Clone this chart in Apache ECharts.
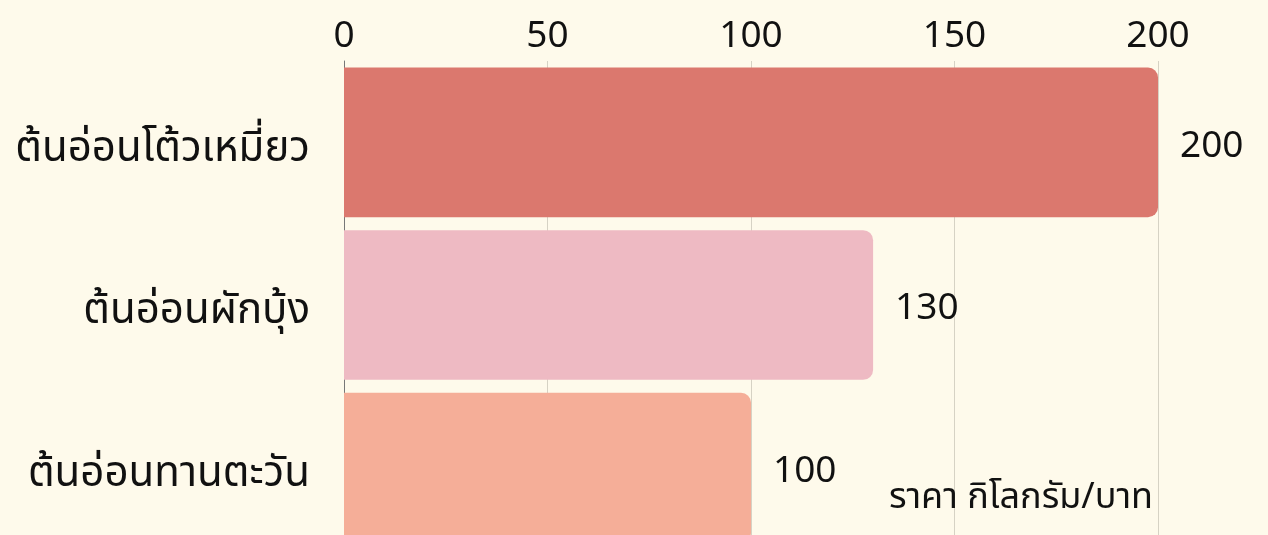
<!DOCTYPE html>
<html>
<head>
<meta charset="utf-8">
<script src="https://cdn.jsdelivr.net/npm/echarts@6/dist/echarts.min.js"></script>
<style>
html,body{margin:0;padding:0;background:#fefaeb;}
#c{width:1268px;height:535px;}
</style>
</head>
<body>
<div id="c"></div>
<script>
const categories = ['ต้นอ่อนโต้วเหมี่ยว', 'ต้นอ่อนผักบุ้ง', 'ต้นอ่อนทานตะวัน'];
const prices = [200, 130, 100];
const barColors = ['#db786e', '#eebac3', '#f5ae98'];
const xTicks = [0, 50, 100, 150, 200];
const unitLabel = 'ราคา กิโลกรัม/บาท';

const FONT = '"Noto Sans Thai", "Noto Sans", "DejaVu Sans", sans-serif';
const chart = echarts.init(document.getElementById('c'));
chart.setOption({
  backgroundColor: '#fefaeb',
  animation: false,
  textStyle: { fontFamily: FONT },
  title: {
    text: unitLabel,
    right: 110,
    bottom: 11,
    textStyle: { fontFamily: FONT, fontSize: 36, fontWeight: 'normal', color: '#111' }
  },
  grid: { left: 344, top: 61, width: 814, height: 488, outerBoundsMode: 'none', containLabel: false },
  xAxis: {
    type: 'value',
    position: 'top',
    min: xTicks[0],
    max: xTicks[xTicks.length - 1],
    interval: 50,
    axisLine: { show: false },
    axisTick: { show: false },
    axisLabel: { fontSize: 37, color: '#111', margin: 3, fontFamily: FONT },
    splitLine: { show: true, lineStyle: { color: '#d6d2c4', width: 1 } }
  },
  yAxis: {
    type: 'category',
    inverse: true,
    data: categories,
    axisLine: { show: true, lineStyle: { color: '#777', width: 1 } },
    axisTick: { show: false },
    axisLabel: {
      margin: 34,
      formatter: v => '{t|' + v + '}',
      rich: { t: { fontSize: 42, color: '#111', fontFamily: FONT, padding: [20, 0, 0, 0] } }
    }
  },
  series: [{
    type: 'bar',
    barCategoryGap: '8%',
    data: prices.map((v, i) => ({ value: v, itemStyle: { color: barColors[i] } })),
    itemStyle: { borderRadius: [0, 10, 10, 0] },
    label: {
      show: true,
      position: 'right',
      distance: 22,
      offset: [0, 7],
      fontSize: 37,
      color: '#111',
      fontFamily: FONT
    }
  }]
});
</script>
</body>
</html>
